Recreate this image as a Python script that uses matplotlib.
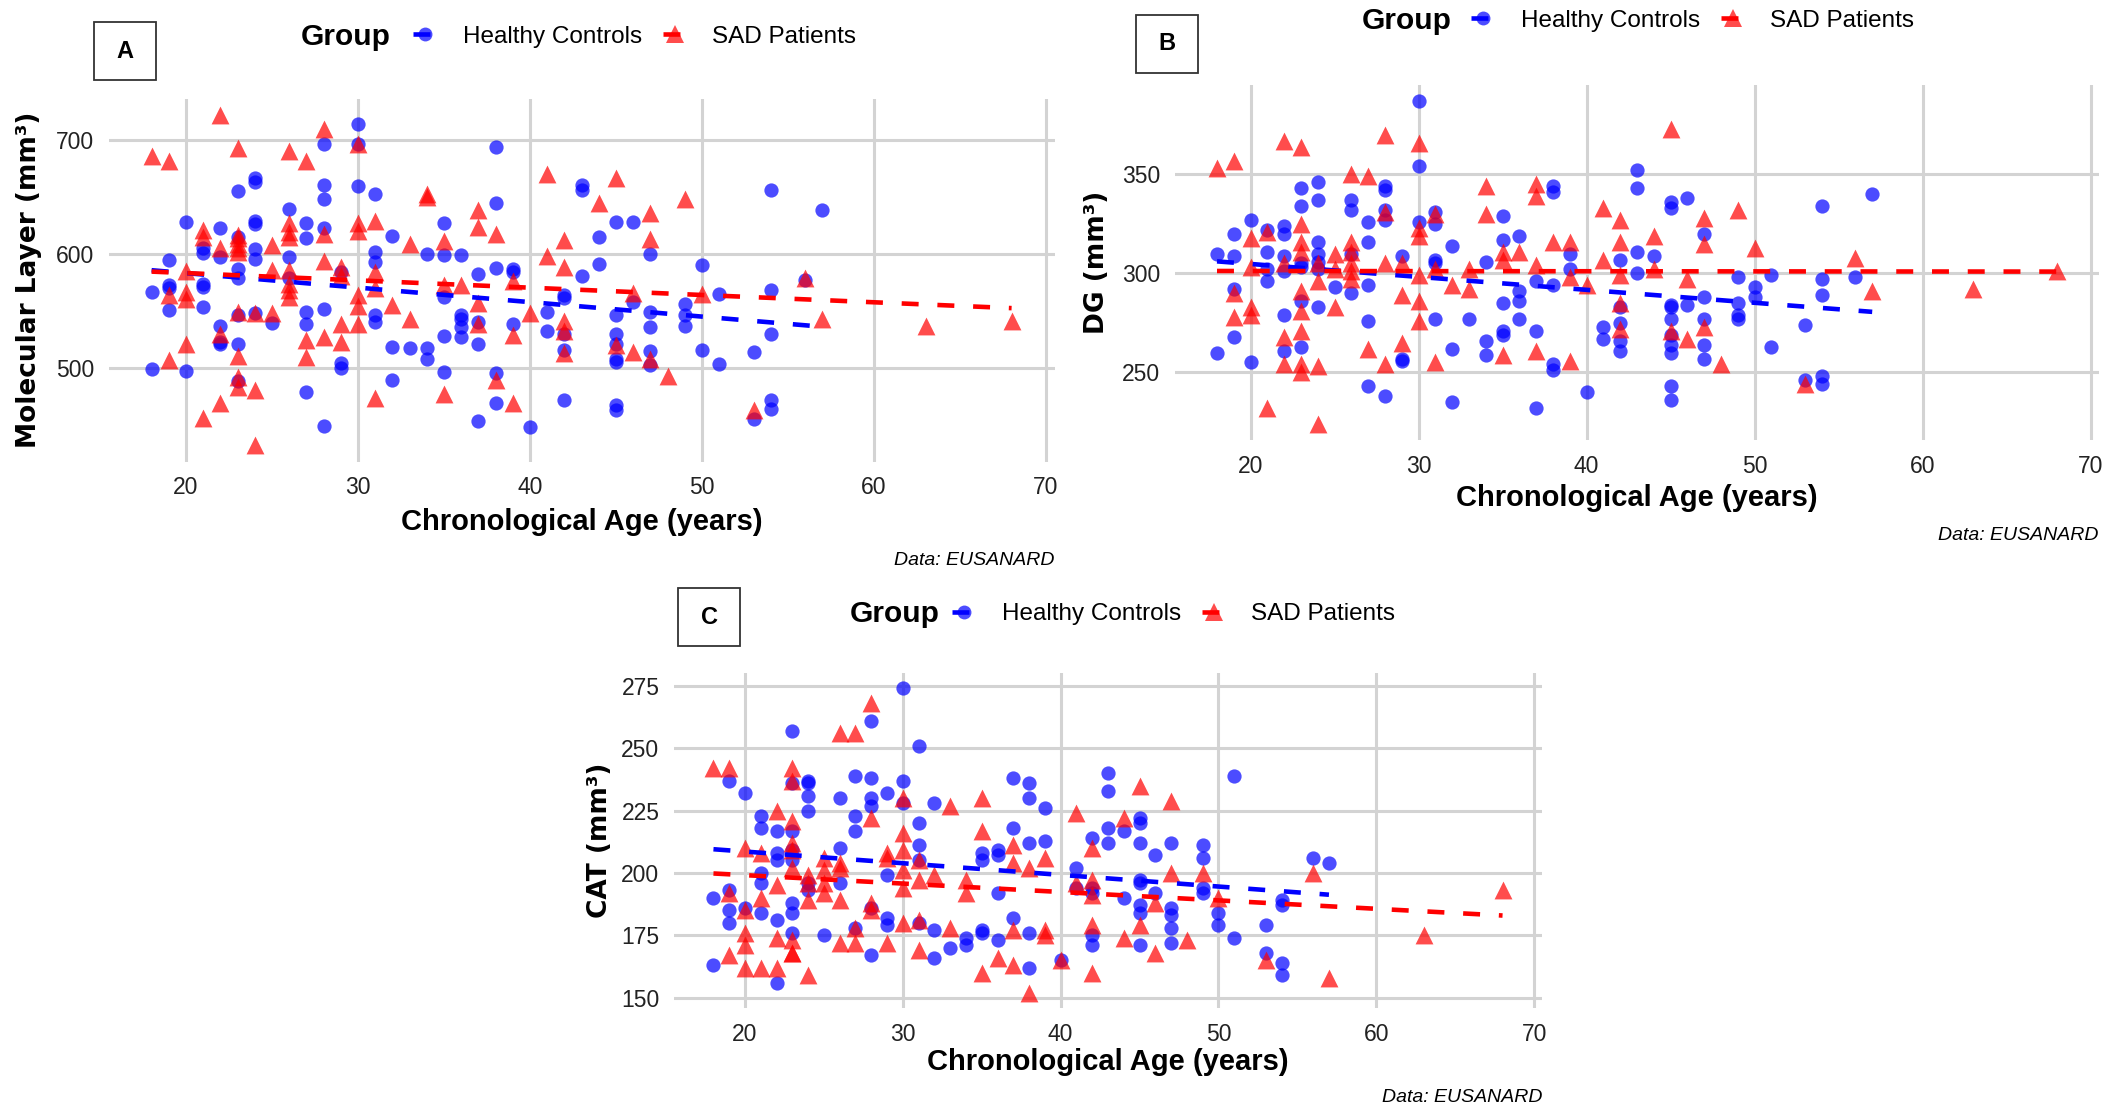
import numpy as np
import matplotlib.pyplot as plt
from matplotlib.lines import Line2D
from matplotlib.patches import Rectangle

plt.rcParams['font.family'] = ['Liberation Sans', 'DejaVu Sans']

W, H = 2109, 1110

# ---- Panel A: Molecular Layer (mm3) ----
hc_age_A = [18, 18,
            19, 19, 19, 19,
            20, 20,
            21, 21, 21, 21, 21,
            22, 22, 22, 22, 22,
            23, 23, 23, 23, 23, 23, 23,
            24, 24, 24, 24, 24, 24, 24,
            25,
            26, 26, 26,
            27, 27, 27, 27, 27,
            28, 28, 28, 28, 28, 28,
            29, 29, 29,
            30, 30, 30,
            31, 31, 31, 31, 31,
            32, 32, 32,
            33,
            34, 34, 34,
            35, 35, 35, 35, 35,
            36, 36, 36, 36, 36,
            37, 37, 37, 37,
            38, 38, 38, 38, 38,
            39, 39, 39,
            40,
            41, 41,
            42, 42, 42, 42, 42,
            43, 43, 43,
            44, 44,
            45, 45, 45, 45, 45, 45, 45, 45,
            46, 46,
            47, 47, 47, 47, 47,
            49, 49, 49,
            50, 50,
            51, 51,
            53, 53,
            54, 54, 54, 54, 54,
            56,
            57]
hc_mol = [567, 499,
          595, 573, 570, 551,
          628, 497,
          605, 601, 574, 571, 553,
          623, 597, 537, 523, 521,
          655, 615, 587, 579, 546, 521, 488,
          667, 663, 629, 626, 604, 596, 548,
          539,
          640, 597, 579,
          627, 614, 549, 538, 479,
          697, 661, 648, 623, 552, 449,
          584, 504, 500,
          714, 697, 660,
          653, 602, 593, 546, 540,
          616, 518, 489,
          517,
          600, 517, 508,
          627, 599, 562, 528, 496,
          599, 546, 543, 536, 527,
          582, 540, 521, 453,
          694, 645, 588, 495, 469,
          587, 584, 538,
          448,
          549, 532,
          564, 561, 530, 516, 472,
          661, 656, 581,
          615, 591,
          628, 546, 530, 521, 508, 505, 467, 463,
          628, 558,
          600, 549, 536, 515, 502,
          556, 546, 537,
          590, 516,
          565, 503,
          514, 455,
          656, 568, 530, 472, 464,
          577,
          639]
sad_age_A = [18,
             19, 19, 19,
             20, 20, 20, 20,
             21, 21, 21,
             22, 22, 22, 22,
             23, 23, 23, 23, 23, 23, 23, 23, 23, 23,
             24, 24, 24,
             25, 25, 25,
             26, 26, 26, 26, 26, 26, 26, 26,
             27, 27, 27,
             28, 28, 28, 28,
             29, 29, 29, 29,
             30, 30, 30, 30, 30, 30,
             31, 31, 31, 31,
             32,
             33, 33,
             34, 34,
             35, 35, 35,
             36,
             37, 37, 37, 37,
             38, 38,
             39, 39, 39,
             40,
             41, 41,
             42, 42, 42, 42, 42,
             44,
             45, 45,
             46, 46,
             47, 47, 47,
             48, 49, 50, 53, 56, 57, 63, 68]
sad_mol = [686,
           682, 564, 507,
           585, 567, 560, 521,
           621, 615, 456,
           722, 605, 530, 469,
           693, 617, 614, 609, 605, 602, 549, 510, 492, 483,
           548, 480, 432,
           608, 586, 548,
           691, 627, 619, 615, 586, 574, 568, 562,
           682, 524, 509,
           710, 618, 594, 527,
           589, 581, 538, 523,
           697, 627, 620, 564, 554, 538,
           629, 584, 570, 473,
           555,
           609, 543,
           653, 650,
           611, 573, 477,
           573,
           639, 624, 557, 538,
           618, 489,
           576, 529, 469,
           548,
           670, 598,
           612, 589, 541, 532, 513,
           645,
           667, 520,
           566, 514,
           636, 613, 508,
           493, 648, 565, 463, 579, 543, 537, 541]

# ---- Panel B: DG (mm3) ----
hc_age_B = [18, 18,
            19, 19, 19, 19,
            20, 20,
            21, 21, 21, 21,
            22, 22, 22, 22, 22, 22,
            23, 23, 23, 23, 23, 23,
            24, 24, 24, 24, 24, 24, 24,
            25,
            26, 26, 26, 26,
            27, 27, 27, 27, 27,
            28, 28, 28, 28, 28,
            29, 29, 29,
            30, 30, 30,
            31, 31, 31, 31, 31,
            32, 32, 32,
            33,
            34, 34, 34,
            35, 35, 35, 35, 35,
            36, 36, 36, 36,
            37, 37, 37,
            38, 38, 38, 38, 38,
            39, 39,
            40,
            41, 41,
            42, 42, 42, 42, 42,
            43, 43, 43, 43,
            44,
            45, 45, 45, 45, 45, 45, 45, 45, 45, 45,
            46, 46,
            47, 47, 47, 47, 47,
            49, 49, 49, 49,
            50, 50,
            51, 51,
            53, 53,
            54, 54, 54, 54, 54,
            56,
            57]
hc_dg = [310, 260,
         320, 309, 292, 268,
         327, 255,
         322, 311, 302, 296,
         324, 320, 309, 301, 279, 261,
         343, 334, 305, 303, 286, 263,
         346, 337, 316, 310, 306, 302, 283,
         293,
         337, 332, 310, 290,
         326, 316, 294, 276, 243,
         344, 342, 332, 327, 238,
         309, 257, 256,
         387, 354, 326,
         331, 325, 307, 305, 277,
         314, 262, 235,
         277,
         306, 266, 259,
         329, 317, 285, 271, 269,
         319, 291, 286, 277,
         296, 271, 232,
         344, 341, 294, 254, 251,
         310, 302,
         240,
         273, 267,
         307, 283, 275, 266, 261,
         352, 343, 311, 300,
         309,
         336, 333, 284, 283, 277, 269, 264, 260, 243, 236,
         338, 284,
         320, 288, 277, 264, 257,
         298, 285, 279, 277,
         293, 288,
         299, 263,
         274, 246,
         334, 297, 289, 248, 244,
         298,
         340]
sad_age_B = [18,
             19, 19, 19,
             20, 20, 20, 20,
             21, 21,
             22, 22, 22, 22,
             23, 23, 23, 23, 23, 23, 23, 23, 23,
             24, 24, 24, 24,
             25, 25, 25,
             26, 26, 26, 26, 26, 26,
             27, 27,
             28, 28, 28, 28,
             29, 29, 29,
             30, 30, 30, 30, 30, 30,
             31, 31, 31,
             32,
             33, 33,
             34, 34,
             35, 35, 35,
             36,
             37, 37, 37, 37,
             38,
             39, 39, 39,
             40,
             41, 41,
             42, 42, 42, 42, 42,
             44, 44,
             45, 45,
             46, 46,
             47, 47, 47,
             48, 49, 50, 53, 56, 57, 63, 68]
sad_dg = [353,
          357, 290, 278,
          318, 303, 283, 279,
          321, 232,
          367, 305, 268, 254,
          364, 325, 316, 311, 291, 281, 271, 254, 250,
          305, 296, 253, 224,
          310, 302, 283,
          350, 316, 311, 305, 301, 297,
          349, 262,
          370, 331, 305, 254,
          305, 289, 265,
          366, 323, 319, 299, 286, 276,
          330, 302, 255,
          294,
          302, 292,
          344, 330,
          311, 307, 259,
          311,
          345, 339, 304, 261,
          316,
          316, 298, 256,
          294,
          333, 307,
          327, 316, 299, 285, 272,
          319, 302,
          373, 271,
          297, 267,
          328, 315, 273,
          254, 332, 313, 244, 308, 291, 292, 301]

# ---- Panel C: CAT (mm3) ----
hc_age_C = [18, 18,
            19, 19, 19, 19,
            20, 20,
            21, 21, 21, 21, 21,
            22, 22, 22, 22, 22,
            23, 23, 23, 23, 23, 23, 23, 23,
            24, 24, 24, 24, 24, 24,
            25,
            26, 26, 26,
            27, 27, 27, 27,
            28, 28, 28, 28, 28, 28,
            29, 29, 29, 29,
            30, 30, 30,
            31, 31, 31, 31, 31,
            32, 32, 32,
            33,
            34, 34,
            35, 35, 35, 35,
            36, 36, 36, 36,
            37, 37, 37,
            38, 38, 38, 38, 38,
            39, 39,
            40,
            41, 41,
            42, 42, 42, 42, 42,
            43, 43, 43, 43,
            44, 44,
            45, 45, 45, 45, 45, 45, 45, 45,
            46, 46,
            47, 47, 47, 47, 47,
            49, 49, 49, 49,
            50, 50,
            51, 51,
            53, 53,
            54, 54, 54, 54,
            56,
            57]
hc_cat = [190, 163,
          237, 193, 185, 180,
          232, 186,
          223, 218, 200, 196, 184,
          217, 208, 205, 181, 156,
          257, 236, 217, 209, 205, 188, 184, 176,
          237, 236, 231, 225, 196, 193,
          175,
          230, 210, 196,
          239, 223, 217, 178,
          261, 238, 230, 227, 186, 167,
          232, 199, 182, 179,
          274, 237, 228,
          251, 220, 211, 205, 180,
          228, 177, 166,
          170,
          174, 171,
          208, 205, 177, 176,
          209, 207, 192, 173,
          238, 218, 182,
          236, 230, 212, 176, 162,
          226, 213,
          165,
          202, 194,
          214, 194, 192, 175, 171,
          240, 233, 218, 212,
          217, 190,
          222, 220, 212, 197, 196, 187, 184, 171,
          207, 192,
          212, 186, 183, 178, 172,
          211, 206, 194, 192,
          184, 179,
          239, 174,
          179, 168,
          189, 187, 164, 159,
          206,
          204]
sad_age_C = [18,
             19, 19, 19,
             20, 20, 20, 20, 20,
             21, 21, 21,
             22, 22, 22, 22,
             23, 23, 23, 23, 23, 23, 23, 23, 23,
             24, 24, 24, 24,
             25, 25, 25, 25,
             26, 26, 26, 26, 26,
             27, 27, 27,
             28, 28, 28, 28,
             29, 29, 29,
             30, 30, 30, 30, 30, 30,
             31, 31, 31, 31,
             32,
             33, 33,
             34, 34,
             35, 35, 35,
             36,
             37, 37, 37, 37,
             38, 38,
             39, 39, 39,
             40,
             41, 41,
             42, 42, 42, 42, 42,
             44, 44,
             45, 45,
             46, 46,
             47, 47,
             48, 49, 50, 53, 56, 57, 63, 68]
sad_cat = [242,
           242, 192, 167,
           210, 185, 176, 171, 162,
           208, 190, 162,
           225, 195, 174, 162,
           242, 237, 221, 212, 209, 202, 173, 168, 168,
           199, 196, 189, 159,
           206, 201, 196, 192,
           256, 204, 202, 189, 172,
           256, 178, 172,
           268, 222, 188, 185,
           208, 206, 172,
           230, 216, 209, 201, 194, 180,
           205, 197, 181, 169,
           199,
           227, 178,
           197, 192,
           230, 217, 160,
           166,
           211, 204, 177, 163,
           202, 152,
           206, 177, 175,
           165,
           224, 196,
           210, 197, 191, 179, 160,
           222, 174,
           235, 179,
           188, 168,
           229, 200,
           173, 200, 190, 165, 200, 158, 175, 193]

x_ticks = [20, 30, 40, 50, 60, 70]
group_labels = ['Healthy Controls', 'SAD Patients']

BLUE = '#0000FF'
RED = '#FF0000'
LW = 3.3
DASH = (0, (3.7, 4.1))


def px_axes(fig, left, top, right, bottom):
    return fig.add_axes([left / W, 1 - bottom / H, (right - left) / W, (bottom - top) / H])


def draw_panel(ax, box, hc_age, hc_val, sad_age, sad_val, ylabel, yticks,
               xtitle_y, ytitle_x):
    left, top, right, bottom = box
    ax.scatter(hc_age, hc_val, s=105, marker='o', color=BLUE, alpha=0.7,
               linewidths=0, zorder=2)
    ax.scatter(sad_age, sad_val, s=165, marker='^', color=RED, alpha=0.7,
               linewidths=0, zorder=2)
    # linear fit per group, dashed like geom_smooth(method = "lm")
    for age, val, col in [(hc_age, hc_val, BLUE), (sad_age, sad_val, RED)]:
        age = np.asarray(age, float)
        slope, icpt = np.polyfit(age, np.asarray(val, float), 1)
        xs = np.array([age.min(), age.max()])
        ax.plot(xs, icpt + slope * xs, color=col, lw=LW, linestyle=DASH,
                zorder=3)
    ax.set_xticks(x_ticks)
    ax.set_yticks(yticks)
    ax.grid(True, color='#d3d3d3', lw=2.2)
    ax.set_axisbelow(True)
    for s in ax.spines.values():
        s.set_visible(False)
    ax.tick_params(length=0, labelsize=16.5, pad=10.5, labelcolor='#222222')
    ax.set_xlabel('Chronological Age (years)', fontsize=21, fontweight='bold',
                  va='center')
    ax.xaxis.set_label_coords(0.5, -(xtitle_y - bottom) / (bottom - top))
    ax.set_ylabel(ylabel, fontsize=19, fontweight='bold', family='DejaVu Sans',
                  va='center')
    ax.yaxis.set_label_coords(-(left - ytitle_x) / (right - left), 0.5)


def draw_header(fig, letter, letter_box, group_x, legend_y, key_x, handles):
    x0, y0, x1, y1 = letter_box
    fig.add_artist(Rectangle((x0 / W, 1 - y1 / H), (x1 - x0) / W, (y1 - y0) / H,
                             transform=fig.transFigure, fill=False,
                             ec='#333333', lw=1.3))
    fig.text((x0 + x1) / 2 / W, 1 - (y0 + y1) / 2 / H, letter, fontsize=17,
             fontweight='bold', ha='center', va='center')
    fig.text(group_x / W, 1 - legend_y / H, 'Group', fontsize=21.5,
             fontweight='bold', ha='left', va='center')
    fig.legend(handles, group_labels, loc='center left',
               bbox_to_anchor=(key_x / W, 1 - legend_y / H), ncol=2,
               frameon=False, fontsize=17.5, handlelength=1.0,
               handletextpad=1.05, columnspacing=0.85, borderpad=0,
               borderaxespad=0)


fig = plt.figure(figsize=(W / 100, H / 100), dpi=100)
fig.patch.set_facecolor('white')

handles = [Line2D([0], [0], color=BLUE, lw=LW, linestyle=DASH, marker='o',
                  markersize=10, markerfacecolor=(0, 0, 1, 0.7),
                  markeredgewidth=0),
           Line2D([0], [0], color=RED, lw=LW, linestyle=DASH, marker='^',
                  markersize=12.5, markerfacecolor=(1, 0, 0, 0.7),
                  markeredgewidth=0)]

box_A = (108.6, 98.8, 1054.6, 461.5)
ax_A = px_axes(fig, *box_A)
draw_panel(ax_A, box_A, hc_age_A, hc_mol, sad_age_A, sad_mol,
           'Molecular Layer (mm³)', [500, 600, 700], 522, 29.5)
draw_header(fig, 'A', (94, 22, 156, 80), 301, 37, 413, handles)
fig.text(1055 / W, 1 - 561 / H, 'Data: EUSANARD', fontsize=14, style='italic',
         ha='right', va='center')

box_B = (1175, 85, 2099, 440)
ax_B = px_axes(fig, *box_B)
draw_panel(ax_B, box_B, hc_age_B, hc_dg, sad_age_B, sad_dg,
           'DG (mm³)', [250, 300, 350], 498, 1097)
draw_header(fig, 'B', (1136, 15, 1198, 73), 1362, 21, 1471, handles)
fig.text(2099 / W, 1 - 536 / H, 'Data: EUSANARD', fontsize=14, style='italic',
         ha='right', va='center')

box_C = (674, 673, 1542, 1008)
ax_C = px_axes(fig, *box_C)
draw_panel(ax_C, box_C, hc_age_C, hc_cat, sad_age_C, sad_cat,
           'CAT (mm³)', [150, 175, 200, 225, 250, 275], 1062, 600)
draw_header(fig, 'C', (678, 588, 740, 646), 850, 614, 952, handles)
fig.text(1542 / W, 1 - 1098 / H, 'Data: EUSANARD', fontsize=14, style='italic',
         ha='right', va='center')

fig.savefig('out.png', dpi=100)
